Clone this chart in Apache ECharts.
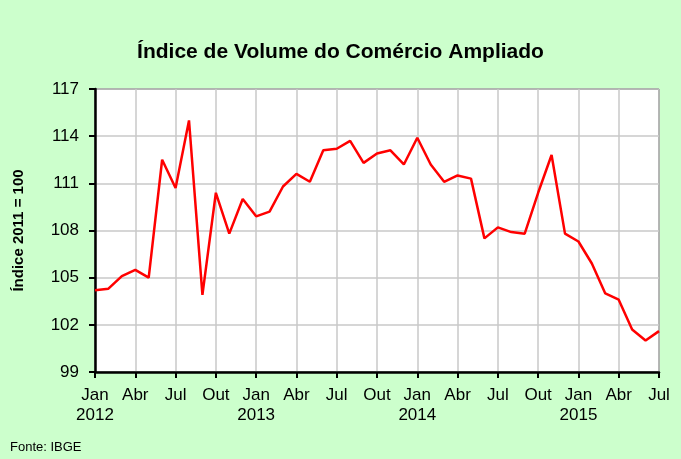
<!DOCTYPE html>
<html>
<head>
<meta charset="utf-8">
<script src="https://cdn.jsdelivr.net/npm/echarts@6/dist/echarts.min.js"></script>
<style>
  html, body { margin: 0; padding: 0; background: #ccffcc; }
  #chart { width: 681px; height: 459px; }
</style>
</head>
<body>
<div id="chart"></div>
<script>
  // meses de Jan/2012 a Jul/2015
  const meses = ['Jan', 'Fev', 'Mar', 'Abr', 'Mai', 'Jun', 'Jul', 'Ago', 'Set', 'Out', 'Nov', 'Dez'];
  const anos = ['2012', '2013', '2014', '2015'];
  const volume = [
    104.2, 104.3, 105.1, 105.5, 105.0, 112.5, 110.7, 115.0, 103.9, 110.4, 107.8, 110.0,
    108.9, 109.2, 110.8, 111.6, 111.1, 113.1, 113.2, 113.7, 112.3, 112.9, 113.1, 112.2,
    113.9, 112.2, 111.1, 111.5, 111.3, 107.5, 108.2, 107.9, 107.8, 110.4, 112.8, 107.8,
    107.3, 105.9, 104.0, 103.6, 101.7, 101.0, 101.6
  ];

  let categorias = [];
  anos.forEach(ano => {
    meses.forEach((m, i) => {
      if (categorias.length < volume.length) {
        categorias.push(i === 0 ? m + '\n' + ano : m);
      }
    });
  });

  let myChart = echarts.init(document.getElementById('chart'));
  let option = {
    backgroundColor: '#ccffcc',
    animation: false,
    title: {
      text: 'Índice de Volume do Comércio Ampliado',
      left: 'center',
      top: 37,
      textStyle: {
        fontFamily: 'Liberation Sans',
        fontSize: 21,
        fontWeight: 'bold',
        color: '#000'
      }
    },
    graphic: [{
      type: 'text',
      left: 10,
      bottom: 5,
      style: {
        text: 'Fonte: IBGE',
        font: '13px "Liberation Sans"',
        fill: '#000'
      }
    }],
    grid: {
      left: 95,
      right: 22,
      top: 89,
      bottom: 87,
      outerBoundsMode: 'none',
      show: true,
      backgroundColor: '#fff',
      borderColor: '#000',
      borderWidth: 1
    },
    xAxis: {
      type: 'category',
      data: categorias,
      boundaryGap: false,
      axisLine: { lineStyle: { color: '#000', width: 2.5 } },
      axisTick: { interval: 2, length: 6, lineStyle: { color: '#000', width: 2 } },
      splitLine: { show: true, interval: 2, lineStyle: { color: '#c8c8c8', width: 1.5 } },
      axisLabel: {
        interval: 2,
        color: '#000',
        fontFamily: 'Liberation Sans',
        fontSize: 17,
        lineHeight: 20,
        margin: 13
      }
    },
    yAxis: {
      type: 'value',
      min: 99,
      max: 117,
      interval: 3,
      name: 'Índice 2011 = 100',
      nameLocation: 'middle',
      nameGap: 69,
      nameTextStyle: {
        fontFamily: 'Liberation Sans',
        fontSize: 15,
        fontWeight: 'bold',
        color: '#000'
      },
      axisLine: { show: true, lineStyle: { color: '#000', width: 2.5 } },
      axisTick: { show: true, length: 6, lineStyle: { color: '#000', width: 2 } },
      splitLine: { lineStyle: { color: '#c8c8c8', width: 1.5 } },
      axisLabel: {
        color: '#000',
        fontFamily: 'Liberation Sans',
        fontSize: 17,
        margin: 16
      }
    },
    series: [{
      type: 'line',
      data: volume,
      symbol: 'none',
      lineStyle: { color: '#ff0000', width: 2.5 }
    }]
  };
  myChart.setOption(option);
</script>
</body>
</html>
